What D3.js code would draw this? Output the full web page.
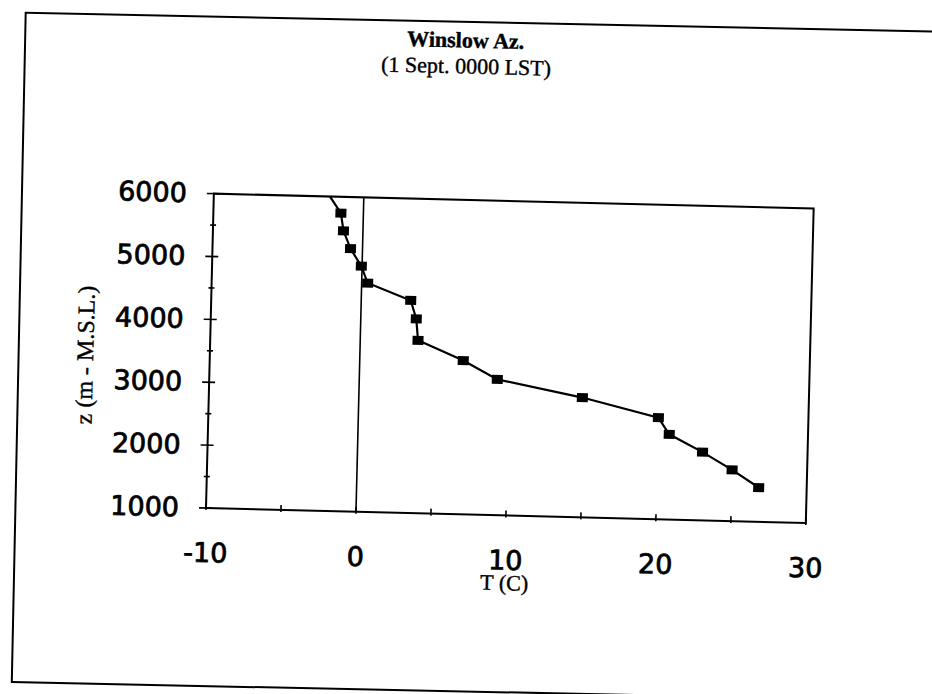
<!DOCTYPE html>
<html>
<head>
<meta charset="utf-8">
<script src="https://cdn.jsdelivr.net/npm/d3@7"></script>
<style>
  body { margin: 0; background: #fff; }
  svg { display: block; }
</style>
</head>
<body>
<svg id="chart" width="932" height="694"></svg>
<script>
const width = 932;
const height = 694;

// Sounding, top to bottom (first point lies above the plot and gets clipped)
const temps = [-3.1, -1.5, -1.3, -0.8, -0.05, 0.4, 3.3, 3.7, 3.85, 6.9, 9.2, 14.9, 20.0, 20.75, 23.0, 25.0, 26.8];
const heights = [6290, 5740, 5460, 5180, 4905, 4640, 4380, 4090, 3750, 3445, 3160, 2905, 2615, 2355, 2085, 1815, 1545];

const xTicks = [-10, 0, 10, 20, 30];
const xMarks = [-10, -5, 0, 5, 10, 15, 20, 25, 30];
const yTicks = [1000, 2000, 3000, 4000, 5000, 6000];
const yMinor = [1500, 2500, 3500, 4500, 5500];
const zeroLine = [0];

const svg = d3.select("#chart");
svg.append("rect").attr("width", width).attr("height", height).attr("fill", "#fff");

// outer frame - the scanned page is a bit tilted
svg.append("rect")
  .attr("x", 25.7)
  .attr("y", 12.7)
  .attr("width", 1000)
  .attr("height", 669.5)
  .attr("transform", "rotate(1.19, 25.7, 12.7)")
  .attr("fill", "none")
  .attr("stroke", "#000")
  .attr("stroke-width", 2);

const g = svg.append("g").attr("transform", "rotate(1.43, 205, 508)");

const xScale = d3.scaleLinear().domain([-10, 30]).range([206, 806]);
const yScale = d3.scaleLinear().domain([1000, 6000]).range([508, 193.5]);

// clip for the data
g.append("clipPath")
  .attr("id", "plot-clip")
  .append("rect")
  .attr("x", xScale(-10))
  .attr("y", yScale(6000))
  .attr("width", xScale(30) - xScale(-10))
  .attr("height", yScale(1000) - yScale(6000));

// plot frame
g.append("rect")
  .attr("x", xScale(-10))
  .attr("y", yScale(6000))
  .attr("width", xScale(30) - xScale(-10))
  .attr("height", yScale(1000) - yScale(6000))
  .attr("fill", "none")
  .attr("stroke", "#000")
  .attr("stroke-width", 2);

// T = 0 reference line
g.selectAll(".zero")
  .data(zeroLine)
  .enter()
  .append("line")
  .attr("class", "zero")
  .attr("x1", (d) => xScale(d))
  .attr("x2", (d) => xScale(d))
  .attr("y1", yScale(6000))
  .attr("y2", yScale(1000))
  .attr("stroke", "#000")
  .attr("stroke-width", 1.6);

// tick marks (they cross the axis lines)
g.selectAll(".ytick")
  .data(yTicks)
  .enter()
  .append("line")
  .attr("x1", xScale(-10) - 7)
  .attr("x2", xScale(-10) + 6)
  .attr("y1", (d) => yScale(d))
  .attr("y2", (d) => yScale(d))
  .attr("stroke", "#000")
  .attr("stroke-width", 1.6);

g.selectAll(".yminor")
  .data(yMinor)
  .enter()
  .append("line")
  .attr("x1", xScale(-10) - 3)
  .attr("x2", xScale(-10) + 3)
  .attr("y1", (d) => yScale(d))
  .attr("y2", (d) => yScale(d))
  .attr("stroke", "#000")
  .attr("stroke-width", 1.6);

g.selectAll(".xtick")
  .data(xMarks)
  .enter()
  .append("line")
  .attr("x1", (d) => xScale(d))
  .attr("x2", (d) => xScale(d))
  .attr("y1", yScale(1000) - 5)
  .attr("y2", yScale(1000) + 2)
  .attr("stroke", "#000")
  .attr("stroke-width", 1.6);

// tick labels (plain hyphen for negatives, heavier like the scan)
const yAxis = g.append("g")
  .attr("transform", "translate(" + xScale(-10) + ",0)")
  .call(d3.axisLeft(yScale).tickValues(yTicks).tickSize(0).tickPadding(27).tickFormat((d) => String(d)));
yAxis.select(".domain").remove();
yAxis.attr("font-family", "'DejaVu Sans', sans-serif").attr("font-size", 27);
yAxis.selectAll("text").attr("fill", "#000").attr("stroke", "#000").attr("stroke-width", 0.8);

const xAxis = g.append("g")
  .attr("transform", "translate(0," + yScale(1000) + ")")
  .call(d3.axisBottom(xScale).tickValues(xTicks).tickSize(0).tickPadding(35).tickFormat((d) => String(d)));
xAxis.select(".domain").remove();
xAxis.attr("font-family", "'DejaVu Sans', sans-serif").attr("font-size", 27);
xAxis.selectAll("text").attr("fill", "#000").attr("stroke", "#000").attr("stroke-width", 0.8);

// data line + square markers
const line = d3.line()
  .x((d, i) => xScale(temps[i]))
  .y((d, i) => yScale(heights[i]));

const dataG = g.append("g").attr("clip-path", "url(#plot-clip)");

dataG.append("path")
  .datum(heights)
  .attr("d", line)
  .attr("fill", "none")
  .attr("stroke", "#000")
  .attr("stroke-width", 2.2);

dataG.selectAll(".pt")
  .data(heights)
  .enter()
  .append("rect")
  .attr("class", "pt")
  .attr("x", (d, i) => xScale(temps[i]) - 5.5)
  .attr("y", (d) => yScale(d) - 4.5)
  .attr("width", 11)
  .attr("height", 9)
  .attr("fill", "#000");

// titles
g.append("text")
  .attr("x", 454)
  .attr("y", 33.5)
  .attr("dy", "0.35em")
  .attr("text-anchor", "middle")
  .attr("font-family", "'Liberation Serif', serif")
  .attr("font-weight", "bold")
  .attr("font-size", 22)
  .attr("stroke", "#000")
  .attr("stroke-width", 0.4)
  .text("Winslow Az.");

g.append("text")
  .attr("x", 455)
  .attr("y", 59.5)
  .attr("dy", "0.35em")
  .attr("text-anchor", "middle")
  .attr("font-family", "'Liberation Serif', serif")
  .attr("font-size", 22)
  .attr("stroke", "#000")
  .attr("stroke-width", 0.4)
  .text("(1 Sept. 0000 LST)");

g.append("text")
  .attr("x", xScale(10))
  .attr("y", yScale(1000) + 67)
  .attr("dy", "0.35em")
  .attr("text-anchor", "middle")
  .attr("font-family", "'Liberation Serif', serif")
  .attr("font-size", 22)
  .attr("stroke", "#000")
  .attr("stroke-width", 0.4)
  .text("T (C)");

g.append("text")
  .attr("transform", "translate(81,358) rotate(-90)")
  .attr("dy", "0.35em")
  .attr("text-anchor", "middle")
  .attr("font-family", "'Liberation Serif', serif")
  .attr("font-size", 24)
  .attr("stroke", "#000")
  .attr("stroke-width", 0.4)
  .text("z (m - M.S.L.)");
</script>
</body>
</html>
